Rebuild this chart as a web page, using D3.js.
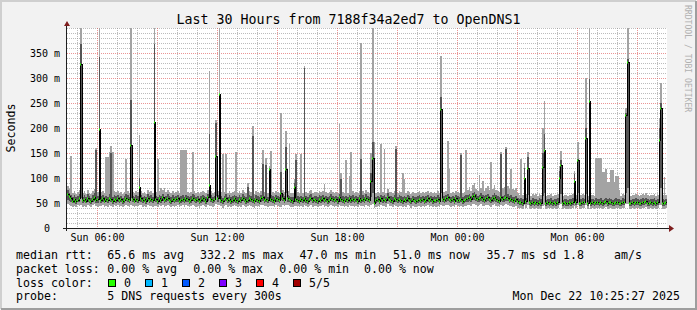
<!DOCTYPE html>
<html>
<head>
<meta charset="utf-8">
<script src="https://cdn.jsdelivr.net/npm/d3@7"></script>
<style>
    body { margin: 0; background: #f2f2f2; }
    svg { display: block; font-family: "DejaVu Sans Mono", monospace; }
</style>
</head>
<body>
<div id="chart"></div>
<script>
// one sample every 5 minutes, values in ms (5 pings: min, 2nd, median, 4th, max)
const startTime = new Date(2025, 11, 21, 4, 30)
const endTime = new Date(2025, 11, 22, 10, 30)
const stepMinutes = 5

const rttMin = [
    48, 46, 44, 42, 45, 43, 46, 44, 47, 43,
    45, 42, 47, 44, 43, 46, 48, 44, 42, 45,
    44, 46, 42, 45, 43, 47, 45, 42, 46, 44,
    46, 43, 45, 42, 44, 47, 45, 43, 46, 44,
    42, 45, 44, 47, 46, 43, 45, 42, 47, 44,
    45, 43, 45, 44, 42, 46, 44, 47, 43, 45,
    47, 44, 42, 45, 43, 45, 46, 42, 44, 46,
    43, 46, 45, 42, 44, 47, 45, 43, 44, 41,
    44, 46, 45, 42, 47, 45, 45, 43, 44, 48,
    46, 47, 44, 41, 45, 47, 43, 45, 42, 44,
    46, 44, 42, 45, 43, 47, 44, 42, 44, 46,
    45, 43, 41, 45, 44, 42, 46, 47, 44, 45,
    43, 45, 45, 44, 42, 46, 45, 43, 43, 47,
    44, 47, 46, 45, 43, 42, 44, 45, 44, 42,
    45, 43, 46, 44, 42, 45, 47, 43, 45, 44,
    42, 45, 44, 46, 43, 45, 42, 44, 47, 45,
    43, 45, 42, 47, 45, 44, 42, 45, 43, 46,
    44, 45, 43, 45, 42, 46, 44, 45, 43, 47,
    45, 43, 46, 48, 40, 43, 45, 42, 46, 44,
    45, 43, 48, 45, 44, 42, 46, 45, 43, 45,
    44, 42, 45, 43, 46, 44, 41, 45, 43, 42,
    44, 45, 43, 45, 42, 44, 46, 43, 45, 42,
    44, 43, 45, 42, 47, 45, 44, 46, 47, 45,
    43, 45, 42, 46, 44, 43, 45, 42, 44, 45,
    46, 47, 45, 48, 49, 47, 45, 46, 48, 45,
    44, 46, 47, 45, 43, 46, 48, 45, 44, 42,
    47, 45, 46, 48, 47, 44, 45, 43, 42, 45,
    41, 39, 40, 38, 46, 41, 47, 40, 38, 40,
    39, 40, 38, 41, 39, 44, 47, 38, 40, 39,
    41, 38, 40, 39, 41, 46, 48, 38, 40, 39,
    38, 40, 39, 41, 44, 40, 46, 38, 39, 41,
    40, 47, 38, 48, 39, 40, 38, 41, 40, 39,
    41, 38, 40, 42, 39, 41, 40, 38, 39, 41,
    40, 39, 38, 41, 40, 48, 49, 39, 38, 40,
    39, 41, 40, 38, 39, 41, 40, 42, 39, 38,
    40, 39, 41, 38, 40, 47, 46, 39, 38, 40
]
const rttLow = [
    56, 54, 52, 50, 51, 49, 52, 53, 60, 50,
    52, 50, 53, 51, 49, 52, 54, 50, 51, 62,
    51, 53, 50, 52, 50, 54, 52, 49, 52, 51,
    53, 50, 52, 49, 51, 54, 52, 50, 60, 52,
    50, 52, 51, 62, 53, 50, 52, 49, 54, 51,
    52, 50, 66, 52, 49, 53, 51, 54, 50, 52,
    54, 51, 49, 52, 50, 52, 53, 49, 51, 52,
    50, 53, 52, 49, 51, 54, 52, 50, 52, 48,
    51, 53, 52, 49, 54, 60, 52, 50, 52, 64,
    53, 70, 51, 48, 52, 54, 50, 52, 49, 51,
    53, 51, 49, 52, 50, 54, 52, 49, 51, 53,
    52, 50, 48, 52, 51, 49, 53, 54, 51, 52,
    50, 62, 52, 51, 49, 53, 52, 50, 56, 54,
    51, 70, 53, 52, 50, 49, 60, 52, 51, 49,
    52, 50, 53, 51, 49, 52, 54, 50, 52, 51,
    49, 52, 51, 53, 50, 52, 49, 51, 54, 52,
    50, 52, 49, 54, 52, 51, 49, 52, 50, 53,
    51, 52, 50, 52, 49, 53, 51, 52, 50, 54,
    52, 50, 62, 70, 46, 50, 52, 49, 53, 51,
    52, 50, 55, 52, 51, 49, 53, 52, 50, 52,
    51, 49, 52, 50, 53, 51, 48, 52, 50, 49,
    51, 52, 50, 52, 49, 51, 53, 50, 52, 49,
    51, 50, 52, 49, 70, 52, 51, 53, 54, 52,
    50, 52, 49, 53, 51, 50, 52, 49, 51, 52,
    53, 54, 52, 56, 57, 54, 52, 53, 55, 52,
    51, 53, 54, 52, 50, 53, 55, 52, 51, 49,
    54, 52, 53, 55, 54, 51, 52, 50, 49, 52,
    48, 46, 47, 45, 62, 48, 66, 46, 44, 47,
    45, 46, 44, 47, 45, 64, 70, 44, 46, 45,
    47, 44, 46, 45, 47, 60, 68, 44, 46, 45,
    44, 46, 45, 47, 58, 46, 70, 44, 45, 47,
    46, 68, 44, 72, 45, 46, 44, 47, 46, 45,
    47, 44, 46, 48, 45, 47, 46, 44, 45, 47,
    46, 45, 44, 47, 46, 70, 80, 45, 44, 46,
    45, 47, 46, 44, 45, 47, 46, 48, 45, 44,
    46, 45, 47, 44, 46, 70, 80, 45, 44, 46
]
const rttMed = [
    68, 64, 60, 55, 58, 54, 57, 60, 328, 56,
    58, 55, 61, 57, 54, 59, 62, 56, 58, 198,
    57, 60, 55, 58, 56, 61, 58, 55, 59, 57,
    60, 56, 58, 54, 57, 61, 59, 56, 166, 58,
    55, 59, 57, 81, 60, 56, 58, 55, 61, 57,
    59, 56, 213, 58, 55, 60, 57, 62, 56, 58,
    61, 57, 55, 59, 56, 58, 60, 55, 57, 59,
    56, 60, 58, 55, 57, 61, 59, 56, 58, 54,
    57, 60, 58, 55, 62, 86, 59, 56, 58, 145,
    60, 268, 57, 54, 58, 61, 56, 59, 55, 57,
    60, 57, 55, 59, 56, 61, 58, 55, 57, 60,
    58, 56, 54, 59, 57, 55, 60, 62, 57, 58,
    56, 118, 59, 57, 55, 60, 58, 56, 70, 61,
    57, 118, 60, 58, 56, 55, 83, 59, 57, 55,
    58, 56, 60, 57, 55, 59, 61, 56, 58, 57,
    55, 59, 57, 60, 56, 58, 55, 57, 61, 58,
    56, 58, 55, 62, 59, 57, 55, 58, 56, 60,
    57, 59, 56, 58, 55, 60, 57, 59, 56, 61,
    58, 56, 93, 141, 50, 56, 58, 55, 60, 57,
    59, 56, 63, 58, 57, 55, 60, 58, 56, 59,
    57, 55, 58, 56, 60, 57, 54, 58, 56, 55,
    57, 59, 56, 58, 55, 57, 60, 56, 58, 55,
    57, 56, 59, 55, 239, 58, 57, 60, 62, 58,
    56, 58, 55, 60, 57, 56, 58, 55, 57, 59,
    60, 62, 58, 64, 66, 61, 58, 60, 63, 59,
    57, 60, 62, 58, 56, 60, 63, 59, 57, 55,
    62, 58, 60, 63, 61, 57, 59, 56, 55, 58,
    54, 52, 53, 51, 101, 54, 121, 52, 50, 53,
    51, 52, 50, 53, 51, 123, 157, 50, 52, 51,
    53, 50, 52, 51, 53, 101, 126, 50, 52, 51,
    50, 52, 51, 53, 95, 52, 135, 50, 51, 53,
    52, 181, 50, 254, 51, 52, 50, 53, 52, 51,
    53, 50, 52, 54, 51, 53, 52, 50, 51, 53,
    52, 51, 50, 53, 52, 226, 333, 51, 50, 52,
    51, 53, 52, 50, 51, 53, 52, 54, 51, 50,
    52, 51, 53, 50, 52, 177, 241, 51, 50, 52
]
const rttHigh = [
    76, 71, 67, 63, 66, 62, 64, 68, 368, 63,
    66, 62, 68, 64, 61, 66, 70, 156, 65, 343,
    64, 67, 62, 65, 63, 68, 150, 62, 66, 64,
    67, 63, 65, 61, 64, 68, 66, 63, 256, 65,
    62, 66, 64, 100, 67, 63, 65, 62, 68, 64,
    66, 63, 369, 65, 62, 67, 64, 69, 63, 65,
    68, 64, 62, 66, 63, 65, 67, 62, 64, 66,
    63, 67, 65, 62, 64, 68, 66, 63, 65, 61,
    64, 67, 65, 62, 69, 189, 66, 63, 65, 210,
    67, 269, 64, 61, 65, 68, 63, 66, 62, 64,
    67, 64, 62, 66, 63, 68, 65, 62, 83, 67,
    65, 185, 61, 66, 64, 62, 67, 129, 64, 126,
    63, 120, 66, 64, 62, 67, 65, 63, 113, 68,
    64, 163, 67, 65, 63, 62, 90, 136, 64, 62,
    65, 63, 321, 64, 62, 66, 68, 63, 65, 64,
    62, 66, 64, 67, 63, 65, 62, 64, 68, 65,
    63, 65, 62, 69, 99, 64, 62, 65, 63, 67,
    64, 66, 63, 65, 62, 67, 139, 66, 63, 68,
    65, 63, 110, 173, 60, 63, 65, 62, 67, 64,
    66, 63, 70, 65, 64, 62, 67, 159, 63, 66,
    64, 62, 65, 63, 67, 64, 61, 65, 63, 62,
    64, 66, 63, 65, 62, 64, 67, 63, 65, 62,
    64, 63, 66, 62, 263, 65, 64, 67, 69, 65,
    63, 65, 62, 67, 64, 63, 147, 62, 64, 66,
    67, 69, 65, 71, 73, 68, 65, 67, 70, 66,
    64, 67, 69, 65, 63, 67, 70, 66, 64, 62,
    149, 65, 67, 159, 68, 64, 66, 63, 62, 65,
    61, 59, 60, 58, 120, 61, 143, 59, 57, 60,
    58, 59, 57, 60, 58, 150, 189, 57, 59, 58,
    60, 57, 59, 58, 60, 115, 136, 57, 59, 58,
    57, 59, 58, 60, 109, 59, 139, 57, 58, 60,
    59, 200, 57, 299, 58, 59, 57, 60, 59, 58,
    60, 57, 59, 61, 58, 60, 59, 57, 58, 60,
    59, 58, 57, 60, 59, 230, 339, 58, 57, 59,
    58, 60, 59, 57, 58, 60, 59, 61, 58, 57,
    59, 58, 60, 57, 59, 200, 250, 58, 57, 59
]
const rttMax = [
    84, 78, 144, 70, 74, 69, 72, 76, 420, 70,
    74, 69, 76, 71, 68, 74, 78, 160, 72, 420,
    72, 75, 70, 143, 143, 153, 164, 153, 74, 72,
    75, 71, 73, 69, 72, 139, 74, 70, 420, 73,
    70, 74, 72, 186, 75, 71, 73, 69, 76, 72,
    74, 71, 420, 73, 139, 75, 81, 77, 81, 73,
    76, 72, 70, 74, 71, 73, 75, 70, 156, 156,
    156, 156, 73, 70, 72, 153, 74, 71, 73, 69,
    72, 75, 73, 70, 77, 315, 74, 71, 73, 216,
    75, 420, 72, 149, 73, 149, 71, 74, 70, 72,
    75, 153, 70, 74, 71, 76, 73, 70, 90, 75,
    73, 205, 69, 74, 72, 70, 75, 156, 72, 141,
    71, 125, 154, 72, 70, 75, 73, 71, 231, 76,
    72, 194, 75, 169, 71, 70, 98, 149, 72, 70,
    149, 71, 325, 72, 70, 74, 76, 71, 73, 72,
    70, 74, 72, 75, 89, 73, 70, 72, 76, 73,
    71, 73, 70, 209, 110, 72, 70, 136, 71, 105,
    153, 74, 71, 73, 70, 75, 371, 74, 71, 76,
    73, 71, 150, 420, 173, 71, 73, 70, 169, 72,
    159, 71, 78, 73, 72, 70, 75, 165, 71, 74,
    72, 111, 99, 71, 75, 72, 69, 73, 71, 70,
    72, 74, 71, 73, 70, 72, 75, 71, 73, 70,
    72, 71, 74, 70, 344, 73, 72, 75, 174, 119,
    71, 73, 70, 75, 72, 71, 150, 70, 72, 156,
    76, 82, 74, 86, 90, 78, 74, 106, 80, 94,
    74, 80, 84, 76, 133, 78, 86, 76, 74, 72,
    152, 80, 83, 162, 85, 79, 119, 78, 76, 80,
    70, 67, 139, 66, 130, 69, 153, 67, 64, 68,
    66, 68, 65, 69, 66, 200, 254, 65, 67, 66,
    68, 65, 67, 66, 68, 125, 154, 65, 67, 66,
    65, 67, 66, 68, 115, 67, 173, 65, 66, 68,
    67, 300, 65, 420, 66, 67, 65, 141, 141, 141,
    141, 113, 113, 119, 93, 93, 116, 116, 93, 105,
    105, 76, 65, 68, 67, 240, 420, 66, 65, 67,
    66, 68, 67, 65, 66, 68, 67, 70, 66, 65,
    67, 66, 68, 65, 67, 220, 291, 66, 103, 67
]

const yTicks = [0, 50, 100, 150, 200, 250, 300, 350]
const xLabelTimes = [
    new Date(2025, 11, 21, 6), new Date(2025, 11, 21, 12), new Date(2025, 11, 21, 18),
    new Date(2025, 11, 22, 0), new Date(2025, 11, 22, 6)
]

const titleText = "Last 30 Hours from 7188f34a2ed7 to OpenDNS1"
const rttLegend = ["median rtt:", "65.6 ms avg", "332.2 ms max", "47.0 ms min", "51.0 ms now", "35.7 ms sd", "1.8", "am/s"]
const lossLegend = ["packet loss:", "0.00 % avg", "0.00 % max", "0.00 % min", "0.00 % now"]
const lossColorLabels = ["0", "1", "2", "3", "4", "5/5"]
const lossColors = ["#26ff00", "#00b8ff", "#0059ff", "#7e00ff", "#ff0000", "#a10000"]
const probeText = "5 DNS requests every 300s"
const stampText = "Mon Dec 22 10:25:27 2025"

drawChart()

function drawChart() {
    var width = 697, height = 310
    var plot = { left: 67, top: 28, right: 667, bottom: 228 }

    var svg = d3.select("#chart")
        .append("svg")
        .attr("width", width)
        .attr("height", height)

    // background + bevel frame
    svg.append("rect").attr("width", width).attr("height", height).attr("fill", "#f2f2f2")
    svg.append("path").attr("d", "M1,309V1H696").attr("fill", "none").attr("stroke", "#cfcfcf").attr("stroke-width", 2)
    svg.append("path").attr("d", "M1,309H696V1").attr("fill", "none").attr("stroke", "#9e9e9e").attr("stroke-width", 2)

    svg.append("rect")
        .attr("x", plot.left).attr("y", plot.top)
        .attr("width", plot.right - plot.left).attr("height", plot.bottom - plot.top)
        .attr("fill", "#ffffff")

    var x = d3.scaleTime().domain([startTime, endTime]).range([plot.left, plot.right])
    var y = d3.scaleLinear().domain([0, 400]).range([plot.bottom, plot.top])

    // grid, minor then major
    var grid = svg.append("g").attr("shape-rendering", "crispEdges")
    var minorY = d3.range(10, 401, 10).filter(function (v) { return v % 50 !== 0 || v === 400 })
    var majorY = d3.range(50, 351, 50)
    var hours = d3.timeHour.range(startTime, endTime)
    var minorX = hours.filter(function (d) { return d.getHours() % 3 !== 0 })
    var majorX = hours.filter(function (d) { return d.getHours() % 3 === 0 })

    grid.selectAll("line.minory").data(minorY).enter().append("line")
        .attr("x1", plot.left).attr("x2", plot.right)
        .attr("y1", function (d) { return Math.round(y(d)) + 0.5 })
        .attr("y2", function (d) { return Math.round(y(d)) + 0.5 })
        .attr("stroke", "rgba(143,143,143,0.6)").attr("stroke-dasharray", "1,1")
    grid.selectAll("line.minorx").data(minorX).enter().append("line")
        .attr("y1", plot.top).attr("y2", plot.bottom)
        .attr("x1", function (d) { return Math.round(x(d)) + 0.5 })
        .attr("x2", function (d) { return Math.round(x(d)) + 0.5 })
        .attr("stroke", "rgba(143,143,143,0.6)").attr("stroke-dasharray", "1,1")
    grid.selectAll("line.majory").data(majorY).enter().append("line")
        .attr("x1", plot.left).attr("x2", plot.right)
        .attr("y1", function (d) { return Math.round(y(d)) + 0.5 })
        .attr("y2", function (d) { return Math.round(y(d)) + 0.5 })
        .attr("stroke", "rgba(222,79,79,0.6)").attr("stroke-dasharray", "1,1")
    grid.selectAll("line.majorx").data(majorX).enter().append("line")
        .attr("y1", plot.top).attr("y2", plot.bottom)
        .attr("x1", function (d) { return Math.round(x(d)) + 0.5 })
        .attr("x2", function (d) { return Math.round(x(d)) + 0.5 })
        .attr("stroke", "rgba(222,79,79,0.6)").attr("stroke-dasharray", "1,1")

    // samples
    var samples = rttMed.map(function (m, i) {
        return {
            time: d3.timeMinute.offset(startTime, i * stepMinutes),
            min: rttMin[i], low: rttLow[i], med: m, high: rttHigh[i], max: rttMax[i]
        }
    })
    var stepped = samples.concat([Object.assign({}, samples[samples.length - 1], { time: endTime })])

    svg.append("clipPath").attr("id", "plotclip")
        .append("rect")
        .attr("x", plot.left).attr("y", plot.top)
        .attr("width", plot.right - plot.left).attr("height", plot.bottom - plot.top)

    var g = svg.append("g").attr("clip-path", "url(#plotclip)")

    // smoke: outer band min..max, inner band 2nd..4th ping
    g.append("path")
        .datum(stepped)
        .attr("fill", "#a3a3a3")
        .attr("shape-rendering", "crispEdges")
        .attr("d", d3.area()
            .x(function (d) { return x(d.time) })
            .y0(function (d) { return y(d.min) })
            .y1(function (d) { return y(d.max) })
            .curve(d3.curveStepAfter))
    g.append("path")
        .datum(stepped)
        .attr("fill", "#555555")
        .attr("shape-rendering", "crispEdges")
        .attr("d", d3.area()
            .x(function (d) { return x(d.time) })
            .y0(function (d) { return y(d.low) })
            .y1(function (d) { return y(d.high) })
            .curve(d3.curveStepAfter))

    // median line
    g.append("path")
        .datum(stepped)
        .attr("fill", "none")
        .attr("stroke", "#000")
        .attr("stroke-width", 1)
        .attr("shape-rendering", "crispEdges")
        .attr("d", d3.line()
            .x(function (d) { return Math.round(x(d.time)) + 0.5 })
            .y(function (d) { return Math.round(y(d.med)) + 0.5 })
            .curve(d3.curveStepAfter))

    // loss colour marks on the median
    g.selectAll("rect.med")
        .data(samples)
        .enter()
        .append("rect")
        .attr("x", function (d) { return Math.round(x(d.time)) })
        .attr("width", 1)
        .attr("y", function (d) { return Math.round(y(d.med)) - 0.5 })
        .attr("height", 2)
        .attr("fill", lossColors[0])

    // axes
    var axisG = svg.append("g").attr("shape-rendering", "crispEdges")
    axisG.append("line").attr("x1", 63).attr("x2", 669).attr("y1", 228.5).attr("y2", 228.5).attr("stroke", "#1f1f1f")
    axisG.append("line").attr("x1", 66.5).attr("x2", 66.5).attr("y1", 231).attr("y2", 25).attr("stroke", "#1f1f1f")
    svg.append("path").attr("d", "M64,26L70,26L67,21Z").attr("fill", "#7f1f1f")
    svg.append("path").attr("d", "M669,225L669,232L674,228.5Z").attr("fill", "#7f1f1f")

    var yAxis = svg.append("g")
        .attr("transform", "translate(60,0)")
        .call(d3.axisLeft(y)
            .tickValues(yTicks)
            .tickSize(0)
            .tickPadding(0)
            .tickFormat(function (d) { return d === 0 ? "0" : d + " m" }))
    yAxis.select(".domain").remove()
    yAxis.selectAll("text")
        .attr("font-family", "DejaVu Sans Mono")
        .attr("font-size", 10)
        .attr("fill", "#000")
        .filter(function (d) { return d === 0 })
        .attr("x", -10)

    var xAxis = svg.append("g")
        .attr("transform", "translate(0," + plot.bottom + ")")
        .call(d3.axisBottom(x)
            .tickValues(xLabelTimes)
            .tickSize(0)
            .tickPadding(6)
            .tickFormat(d3.timeFormat("%a %H:%M")))
    xAxis.select(".domain").remove()
    xAxis.selectAll("text")
        .attr("font-family", "DejaVu Sans Mono")
        .attr("font-size", 10)
        .attr("fill", "#000")

    // titles
    svg.append("text")
        .attr("x", 348.5).attr("y", 23.5)
        .attr("text-anchor", "middle")
        .attr("font-size", 13.3)
        .text(titleText)
    svg.append("text")
        .attr("transform", "translate(15,128)rotate(-90)")
        .attr("text-anchor", "middle")
        .attr("font-size", 11.6)
        .text("Seconds")
    svg.append("text")
        .attr("transform", "translate(685,5)rotate(90)")
        .attr("font-size", 8.1)
        .attr("fill", "#b0b0b0")
        .text("RRDTOOL / TOBI OETIKER")

    // legend
    var rttX = [16, 107.3, 200, 299.5, 393, 486.5, 563, 614]
    var lossX = [16, 107.3, 193.3, 279.3, 364]
    var leg = svg.append("g").attr("font-size", 11.6).attr("fill", "#000")

    leg.selectAll("text.rtt").data(rttLegend).enter().append("text")
        .attr("x", function (d, i) { return rttX[i] })
        .attr("y", 259)
        .text(function (d) { return d })
    leg.selectAll("text.loss").data(lossLegend).enter().append("text")
        .attr("x", function (d, i) { return lossX[i] })
        .attr("y", 272.5)
        .text(function (d) { return d })

    leg.append("text").attr("x", 16).attr("y", 286.5).text("loss color:")
    var boxes = leg.selectAll("g.box").data(lossColorLabels).enter().append("g")
        .attr("transform", function (d, i) { return "translate(" + (108 + i * 37) + ",279)" })
    boxes.append("rect")
        .attr("x", 0.5).attr("y", 0.5).attr("width", 7).attr("height", 7)
        .attr("fill", function (d, i) { return lossColors[i] })
        .attr("stroke", "#000")
        .attr("shape-rendering", "crispEdges")
    boxes.append("text")
        .attr("x", 16).attr("y", 7.5)
        .text(function (d) { return d })

    leg.append("text").attr("x", 16).attr("y", 300).text("probe:")
    leg.append("text").attr("x", 107.3).attr("y", 300).text(probeText)
    leg.append("text").attr("x", 680).attr("y", 300).attr("text-anchor", "end").text(stampText)
}
</script>
</body>
</html>
